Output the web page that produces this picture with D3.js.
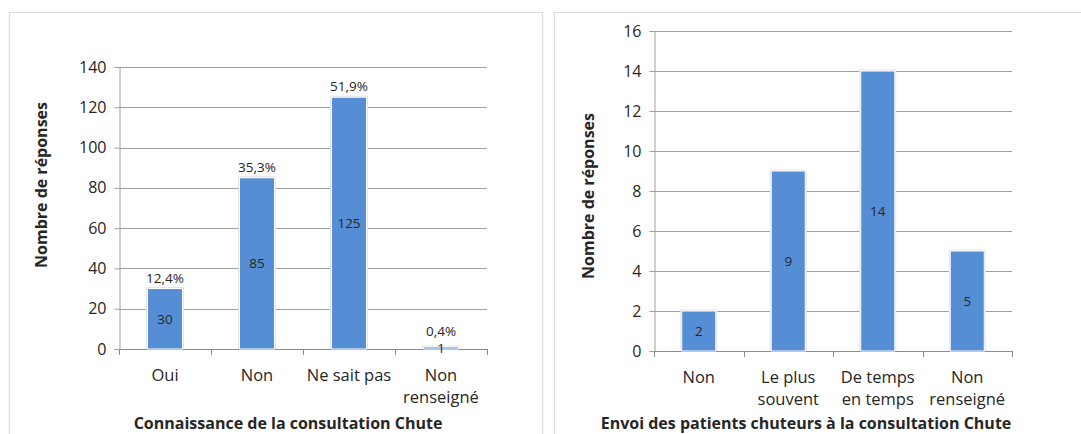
<!DOCTYPE html>
<html>
<head>
<meta charset="utf-8">
<script src="https://cdn.jsdelivr.net/npm/d3@7"></script>
<style>
  body { margin: 0; background: #fff; }
  svg text { font-family: "Open Sans", Lato, sans-serif; fill: #262626; }
</style>
</head>
<body>
<svg id="chart" width="1081" height="434"></svg>
<script>
// chart 1 : connaissance de la consultation
var categories1 = ["Oui", "Non", "Ne sait pas", "Non\nrenseigné"];
var values1 = [30, 85, 125, 1];
var percents1 = ["12,4%", "35,3%", "51,9%", "0,4%"];
var yTicks1 = [0, 20, 40, 60, 80, 100, 120, 140];

// chart 2 : envoi des patients chuteurs
var categories2 = ["Non", "Le plus\nsouvent", "De temps\nen temps", "Non\nrenseigné"];
var values2 = [2, 9, 14, 5];
var yTicks2 = [0, 2, 4, 6, 8, 10, 12, 14, 16];

var svg = d3.select("#chart");

// panel frames
svg.append("rect").attr("x", 9.5).attr("y", 12.5).attr("width", 533).attr("height", 440)
    .attr("fill", "#fff").attr("stroke", "#d9d9d9");
svg.append("rect").attr("x", 554.5).attr("y", 12.5).attr("width", 540).attr("height", 440)
    .attr("fill", "#fff").attr("stroke", "#d9d9d9");

function drawChart(opt) {
    var g = svg.append("g");

    var x = d3.scaleBand()
        .domain(opt.categories)
        .range([opt.left, opt.right])
        .paddingInner(0.62)
        .paddingOuter(0.31);

    var y = d3.scaleLinear()
        .domain([0, d3.max(opt.ticks)])
        .range([opt.bottom, opt.top]);

    // gridlines
    g.selectAll(".grid").data(opt.ticks.slice(1)).enter().append("line")
        .attr("x1", opt.left).attr("x2", opt.right)
        .attr("y1", d => Math.round(y(d)) + 0.5).attr("y2", d => Math.round(y(d)) + 0.5)
        .attr("stroke", "#a0a0a0").attr("stroke-width", 1);

    // y axis
    var yAxis = g.append("g")
        .attr("transform", "translate(" + (opt.left + 0.5) + ",0)")
        .call(d3.axisLeft(y).tickValues(opt.ticks).tickSize(5).tickPadding(8).tickFormat(d3.format("d")));
    yAxis.select(".domain").attr("stroke", "#a0a0a0");
    yAxis.selectAll(".tick line").attr("stroke", "#a0a0a0");
    yAxis.selectAll(".tick text").attr("font-size", 16).attr("fill", "#262626")
        .attr("font-family", "'Open Sans', sans-serif");

    // x axis, ticks at the band edges
    g.append("line")
        .attr("x1", opt.left).attr("x2", opt.right)
        .attr("y1", Math.round(opt.bottom) + 0.5).attr("y2", Math.round(opt.bottom) + 0.5)
        .attr("stroke", "#8c8c8c");
    var bounds = d3.range(opt.categories.length + 1).map(i => opt.left + i * x.step());
    g.selectAll(".xt").data(bounds).enter().append("line")
        .attr("x1", d => Math.round(d) + 0.5).attr("x2", d => Math.round(d) + 0.5)
        .attr("y1", opt.bottom).attr("y2", opt.bottom + 6)
        .attr("stroke", "#8c8c8c");

    // category labels
    opt.categories.forEach(function(c) {
        var lines = c.split("\n");
        var t = g.append("text")
            .attr("x", x(c) + x.bandwidth() / 2)
            .attr("y", opt.bottom + 32)
            .attr("text-anchor", "middle")
            .attr("font-size", 16.5);
        lines.forEach(function(l, i) {
            t.append("tspan").attr("x", x(c) + x.bandwidth() / 2).attr("dy", i == 0 ? 0 : 22).text(l);
        });
    });

    // bar shadows
    g.selectAll(".shadow").data(opt.values).enter().append("rect")
        .attr("x", (d, i) => x(opt.categories[i]) - 1.5)
        .attr("y", d => y(d) - 1.5)
        .attr("width", x.bandwidth() + 3)
        .attr("height", d => opt.bottom - y(d) + 1.5)
        .attr("fill", "#e4e4e4");

    // bars
    g.selectAll(".bar").data(opt.values).enter().append("rect")
        .attr("x", (d, i) => x(opt.categories[i]))
        .attr("y", d => y(d))
        .attr("width", x.bandwidth())
        .attr("height", d => opt.bottom - y(d))
        .attr("fill", "#558ed5")
        .attr("stroke", "#ffffff")
        .attr("stroke-width", 1);

    // value labels, centred in the bar
    var valY = d => (y(d) + opt.bottom) / 2 + 5;
    g.selectAll(".val").data(opt.values).enter().append("text")
        .attr("x", (d, i) => x(opt.categories[i]) + x.bandwidth() / 2)
        .attr("y", valY)
        .attr("text-anchor", "middle")
        .attr("font-size", 13.5)
        .text(d => d);

    // percent labels above the bar (kept clear of the value label)
    if (opt.percents) {
        g.selectAll(".pct").data(opt.values).enter().append("text")
            .attr("x", (d, i) => x(opt.categories[i]) + x.bandwidth() / 2)
            .attr("y", d => Math.min(y(d) - 6, valY(d) - 17))
            .attr("text-anchor", "middle")
            .attr("font-size", 13.5)
            .text((d, i) => opt.percents[i]);
    }

    // axis titles
    g.append("text")
        .attr("transform", "translate(" + opt.yTitleX + "," + opt.yTitleY + ") rotate(-90)")
        .attr("text-anchor", "middle")
        .attr("font-size", 16)
        .attr("font-weight", "bold")
        .attr("fill", "#000")
        .text("Nombre de réponses");

    g.append("text")
        .attr("x", opt.xTitleX)
        .attr("y", opt.xTitleY)
        .attr("text-anchor", "middle")
        .attr("font-size", 16)
        .attr("font-weight", "bold")
        .attr("fill", "#000")
        .text(opt.xTitle);
}

drawChart({
    categories: categories1, values: values1, percents: percents1, ticks: yTicks1,
    left: 119, right: 487, top: 67, bottom: 349,
    yTitleX: 47, yTitleY: 185,
    xTitle: "Connaissance de la consultation Chute", xTitleX: 288, xTitleY: 429
});

drawChart({
    categories: categories2, values: values2, percents: null, ticks: yTicks2,
    left: 654, right: 1012, top: 31, bottom: 351,
    yTitleX: 594, yTitleY: 196,
    xTitle: "Envoi des patients chuteurs à la consultation Chute", xTitleX: 806, xTitleY: 429
});
</script>
</body>
</html>
